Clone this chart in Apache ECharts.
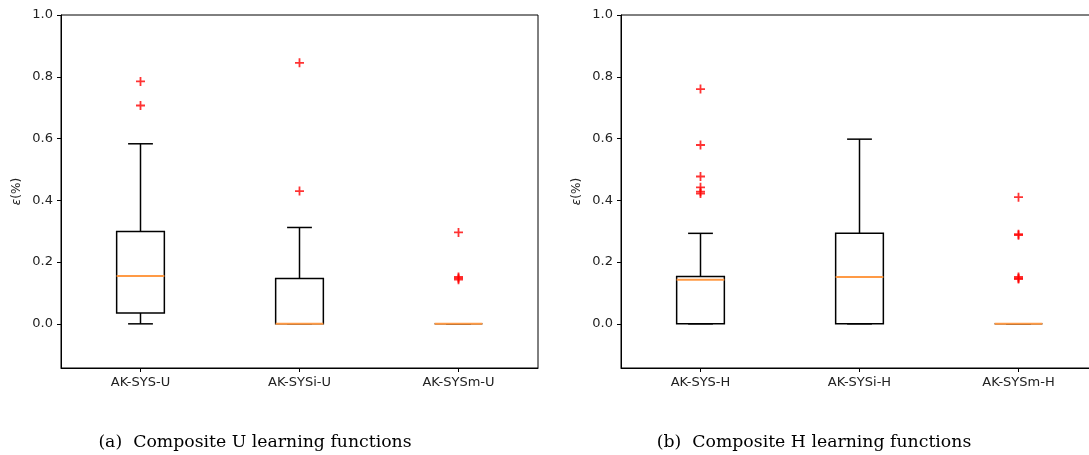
<!DOCTYPE html>
<html>
<head>
<meta charset="utf-8">
<script src="https://cdn.jsdelivr.net/npm/echarts@6/dist/echarts.min.js"></script>
<style>html,body{margin:0;padding:0;background:#fff}#c{width:1089px;height:455px}</style>
</head>
<body>
<div id="c"></div>
<script>
// ---- data ----
const categoriesU = ['AK-SYS-U', 'AK-SYSi-U', 'AK-SYSm-U'];
const categoriesH = ['AK-SYS-H', 'AK-SYSi-H', 'AK-SYSm-H'];
// [lower whisker, Q1, median, Q3, upper whisker]
const boxU = [
  [0, 0.035, 0.155, 0.299, 0.583],
  [0, 0, 0, 0.147, 0.312],
  [0, 0, 0, 0, 0]
];
const boxH = [
  [0, 0, 0.143, 0.153, 0.293],
  [0, 0, 0.152, 0.293, 0.598],
  [0, 0, 0, 0, 0]
];
const outliersU = [
  [0.785, 0.707],
  [0.845, 0.430],
  [0.296, 0.152, 0.148, 0.143]
];
const outliersH = [
  [0.760, 0.579, 0.477, 0.442, 0.428, 0.422],
  [],
  [0.410, 0.290, 0.287, 0.152, 0.148, 0.145]
];
const yTicks = [0.0, 0.2, 0.4, 0.6, 0.8, 1.0];
const captions = ['(a)  Composite U learning functions', '(b)  Composite H learning functions'];

// ---- chart ----
const chart = echarts.init(document.getElementById('c'), null, {renderer: 'canvas'});
const panels = [
  {cats: categoriesU, box: boxU, out: outliersU, left: 61, capX: 255},
  {cats: categoriesH, box: boxH, out: outliersH, left: 621, capX: 814}
];
const W = 477;
const grids = [], xAxes = [], yAxes = [], series = [], graphics = [];
const plus = 'path://M4,0H6V4H10V6H6V10H4V6H0V4H4Z';

panels.forEach((p, i) => {
  grids.push({left: p.left, width: W, top: 15, height: 353, show: true,
    outerBoundsMode: 'none', containLabel: false,
    borderColor: '#000', borderWidth: 1, backgroundColor: 'transparent'});
  xAxes.push({type: 'category', gridIndex: i, data: p.cats, boundaryGap: true,
    axisLine: {onZero: false, lineStyle: {color: '#000', width: 1}},
    axisTick: {show: true, alignWithLabel: true, length: 4, lineStyle: {color: '#000'}},
    axisLabel: {color: '#222', fontSize: 13, fontFamily: 'DejaVu Sans', margin: 8},
    splitLine: {show: false}});
  yAxes.push({type: 'value', gridIndex: i, min: -0.143, max: 1.0,
    name: '{i|ε}(%)', nameLocation: 'middle', nameGap: 38, nameRotate: 90,
    nameTextStyle: {color: '#222', fontSize: 12, fontFamily: 'DejaVu Sans',
      rich: {i: {fontStyle: 'italic', fontSize: 12, fontFamily: 'DejaVu Sans', color: '#222'}}},
    axisLine: {show: true, onZero: false, lineStyle: {color: '#000', width: 1}},
    axisTick: {show: true, length: 4, lineStyle: {color: '#000'}, customValues: yTicks},
    axisLabel: {color: '#222', fontSize: 13, fontFamily: 'DejaVu Sans', margin: 8,
      customValues: yTicks, formatter: v => v.toFixed(1)},
    splitLine: {show: false}});
  series.push({
    type: 'custom', xAxisIndex: i, yAxisIndex: i,
    data: p.box.map((b, k) => [k].concat(b)),
    renderItem: function (params, api) {
      const x = api.value(0);
      const band = api.size([1, 0])[0];
      const hb = band * 0.15, hc = band * 0.078;
      const pLo = api.coord([x, api.value(1)]);
      const pQ1 = api.coord([x, api.value(2)]);
      const pMed = api.coord([x, api.value(3)]);
      const pQ3 = api.coord([x, api.value(4)]);
      const pHi = api.coord([x, api.value(5)]);
      const cx = pLo[0];
      const st = {stroke: '#000', lineWidth: 1.5, fill: null};
      return {type: 'group', children: [
        {type: 'rect', shape: {x: cx - hb, y: pQ3[1], width: 2 * hb, height: pQ1[1] - pQ3[1]}, style: {stroke: '#000', lineWidth: 1.5, fill: 'transparent'}},
        {type: 'line', shape: {x1: cx, y1: pQ3[1], x2: cx, y2: pHi[1]}, style: st},
        {type: 'line', shape: {x1: cx, y1: pQ1[1], x2: cx, y2: pLo[1]}, style: st},
        {type: 'line', shape: {x1: cx - hc, y1: pHi[1], x2: cx + hc, y2: pHi[1]}, style: st},
        {type: 'line', shape: {x1: cx - hc, y1: pLo[1], x2: cx + hc, y2: pLo[1]}, style: st},
        {type: 'line', shape: {x1: cx - hb, y1: pMed[1], x2: cx + hb, y2: pMed[1]}, style: {stroke: '#ff9a45', lineWidth: 2}}
      ]};
    },
    z: 2
  });
  const pts = [];
  p.out.forEach((arr, k) => arr.forEach(v => pts.push([k, v])));
  series.push({type: 'scatter', xAxisIndex: i, yAxisIndex: i, data: pts,
    symbol: plus, symbolSize: 9, itemStyle: {color: '#ff0000'}, z: 3, silent: true});
  graphics.push({type: 'text', x: p.capX, y: 443,
    style: {text: captions[i], fill: '#000', font: '17.3px "DejaVu Serif"',
      textAlign: 'center', textVerticalAlign: 'middle'}});
});

chart.setOption({
  animation: false,
  backgroundColor: '#fff',
  grid: grids, xAxis: xAxes, yAxis: yAxes, series: series, graphic: graphics
});
</script>
</body>
</html>
